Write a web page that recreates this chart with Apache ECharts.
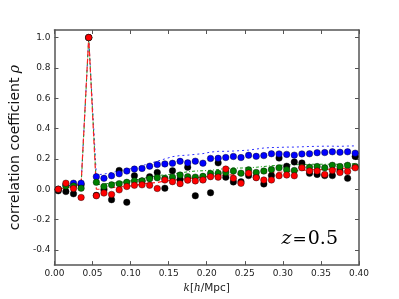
<!DOCTYPE html>
<html><head><meta charset="utf-8">
<script src="https://cdn.jsdelivr.net/npm/echarts@6/dist/echarts.min.js"></script>
<style>html,body{margin:0;padding:0;background:#fff}#c{width:399px;height:299px}</style>
</head><body><div id="c"></div>
<script>
// wavenumber bins k [h/Mpc]
const kValues = [0.005,0.015,0.025,0.035,0.045,0.055,0.065,0.075,0.085,0.095,
  0.105,0.115,0.125,0.135,0.145,0.155,0.165,0.175,0.185,0.195,
  0.205,0.215,0.225,0.235,0.245,0.255,0.265,0.275,0.285,0.295,
  0.305,0.315,0.325,0.335,0.345,0.355,0.365,0.375,0.385,0.395];

// measured points
const blackPts = [-0.010,-0.015,-0.030,0.030,1.000,-0.040,-0.004,-0.069,0.124,-0.086,
  0.089,0.055,0.083,0.111,0.007,0.122,0.065,0.145,-0.043,0.065,
  -0.023,0.174,0.080,0.048,0.050,0.090,0.080,0.035,0.090,0.206,
  0.152,0.180,0.173,0.105,0.098,0.090,0.090,0.120,0.072,0.216];
const bluePts = [0.000,0.030,0.040,0.040,1.000,0.083,0.072,0.089,0.102,0.120,
  0.133,0.137,0.152,0.163,0.167,0.171,0.184,0.174,0.185,0.172,
  0.203,0.204,0.209,0.216,0.209,0.224,0.217,0.222,0.234,0.233,
  0.230,0.225,0.233,0.234,0.241,0.242,0.247,0.244,0.247,0.238];
const greenPts = [0.000,0.022,0.022,0.007,1.000,0.046,0.018,0.029,0.037,0.046,
  0.055,0.055,0.070,0.076,0.072,0.080,0.094,0.083,0.080,0.085,
  0.104,0.106,0.111,0.120,0.106,0.128,0.111,0.120,0.130,0.141,
  0.128,0.124,0.145,0.145,0.150,0.141,0.158,0.150,0.158,0.150];
const redPts = [0.000,0.040,0.005,-0.054,1.000,-0.043,-0.025,-0.034,-0.004,0.018,
  0.026,0.029,0.026,0.005,0.061,0.050,0.037,0.060,0.055,0.061,
  0.083,0.080,0.133,0.072,0.039,0.106,0.076,0.061,0.061,0.089,
  0.094,0.089,0.141,0.120,0.120,0.098,0.124,0.110,0.117,0.141];

// model curves
const blueLine = [0.010,0.020,0.030,0.040,1.000,0.095,0.100,0.110,0.120,0.130,
  0.140,0.155,0.170,0.185,0.200,0.215,0.222,0.225,0.230,0.235,
  0.245,0.250,0.250,0.252,0.255,0.258,0.265,0.272,0.275,0.276,
  0.278,0.278,0.280,0.282,0.283,0.284,0.284,0.283,0.285,0.286];
const greenLine = [0.000,0.010,0.015,0.020,1.000,0.030,0.035,0.040,0.045,0.050,
  0.060,0.070,0.080,0.090,0.095,0.100,0.108,0.115,0.120,0.122,
  0.125,0.130,0.138,0.140,0.140,0.142,0.145,0.150,0.155,0.158,
  0.160,0.162,0.162,0.165,0.165,0.165,0.165,0.165,0.168,0.168];
const redLine = [0.000,0.010,0.020,0.035,1.000,0.000,0.000,0.010,0.015,0.020,
  0.025,0.035,0.040,0.045,0.055,0.060,0.065,0.070,0.075,0.080,
  0.085,0.090,0.095,0.095,0.100,0.100,0.105,0.108,0.110,0.112,
  0.115,0.120,0.125,0.128,0.130,0.130,0.133,0.135,0.140,0.140];

const yTicks = [-0.4,-0.2,0.0,0.2,0.4,0.6,0.8,1.0];

const pair = (ys) => kValues.map((k, i) => [k, ys[i]]);
const spine = '#555';
const chart = echarts.init(document.getElementById('c'), null, {renderer: 'canvas'});

const ptSeries = (name, ys, color) => ({
  name, type: 'scatter', data: pair(ys), symbol: 'circle', symbolSize: 6.5,
  itemStyle: {color, borderColor: '#000', borderWidth: 0.4, opacity: 1}, z: 3
});
const lnSeries = (name, ys, color, dash, w) => ({
  name, type: 'line', data: pair(ys), showSymbol: false, symbol: 'none',
  lineStyle: {color, width: w, type: dash}, z: 2, animation: false
});

chart.setOption({
  animation: false,
  grid: {left: 49.5, right: 40, top: 30, bottom: 31, containLabel: false},
  xAxis: [{
    type: 'value', min: 0, max: 0.4, interval: 0.05, position: 'bottom',
    axisLine: {show: true, onZero: false, lineStyle: {color: spine, width: 1.5}},
    axisTick: {show: true, inside: true, length: 4, lineStyle: {color: spine, width: 1}},
    axisLabel: {formatter: v => v.toFixed(2), fontFamily: 'DejaVu Sans', fontSize: 9, color: '#222', margin: 4},
    splitLine: {show: false},
    name: '{i|k}[{i|h}/Mpc]', nameLocation: 'middle', nameGap: 14,
    nameTextStyle: {fontFamily: 'DejaVu Sans', fontSize: 10.5, color: '#222',
      rich: {i: {fontFamily: 'DejaVu Serif', fontStyle: 'italic', fontSize: 10.5, color: '#222'}}}
  }, {
    type: 'value', min: 0, max: 0.4, interval: 0.05, position: 'top',
    axisLine: {show: true, onZero: false, lineStyle: {color: spine, width: 1.5}},
    axisTick: {show: true, inside: true, length: 4, lineStyle: {color: spine, width: 1}},
    axisLabel: {show: false}, splitLine: {show: false}
  }],
  yAxis: [{
    type: 'value', min: -0.5, max: 1.05, position: 'left',
    axisLine: {show: true, onZero: false, lineStyle: {color: spine, width: 1.5}},
    axisTick: {show: true, inside: true, length: 4, customValues: yTicks, lineStyle: {color: spine, width: 1}},
    axisLabel: {customValues: yTicks, formatter: v => v.toFixed(1), fontFamily: 'DejaVu Sans', fontSize: 9, color: '#222', margin: 4},
    splitLine: {show: false},
    name: 'correlation coefficient {i|ρ}', nameLocation: 'middle', nameGap: 24, nameRotate: 90,
    nameTextStyle: {fontFamily: 'DejaVu Sans', fontSize: 14, color: '#111',
      rich: {i: {fontFamily: 'DejaVu Serif', fontStyle: 'italic', fontSize: 14, color: '#111'}}}
  }, {
    type: 'value', min: -0.5, max: 1.05, position: 'right',
    axisLine: {show: true, onZero: false, lineStyle: {color: spine, width: 1.5}},
    axisTick: {show: true, inside: true, length: 4, customValues: yTicks, lineStyle: {color: spine, width: 1}},
    axisLabel: {show: false}, splitLine: {show: false}
  }],
  series: [
    lnSeries('blue model', blueLine, '#3030ff', [2, 3], 1),
    lnSeries('green model', greenLine, '#1a9a1a', [3, 2, 1, 2], 1),
    lnSeries('red model', redLine, '#ff2020', [5, 3], 1.2),
    ptSeries('black', blackPts, '#000000'),
    ptSeries('blue', bluePts, '#0000ff'),
    ptSeries('green', greenPts, '#007f00'),
    ptSeries('red', redPts, '#ff0000')
  ],
  graphic: [{
    type: 'text', right: 61, top: 230, z: 10,
    style: {
      text: '{i|z}{e|=}{n|0.5}',
      rich: {
        i: {fontFamily: 'DejaVu Serif', fontStyle: 'italic', fontSize: 19, fill: '#000'},
        e: {fontFamily: 'DejaVu Serif', fontSize: 17, fill: '#000', padding: [0, 1, 0, 1]},
        n: {fontFamily: 'DejaVu Serif', fontSize: 19, fill: '#000'}
      }
    }
  }]
});
</script></body></html>
